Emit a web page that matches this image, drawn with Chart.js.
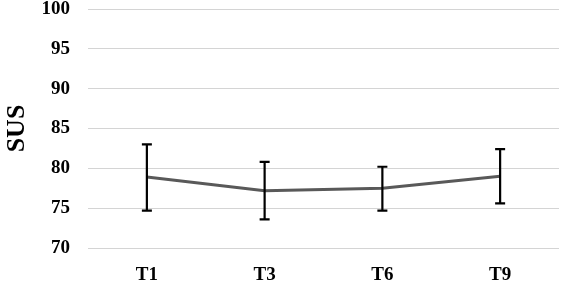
<!DOCTYPE html>
<html>
<head>
<meta charset="utf-8">
<script src="https://cdn.jsdelivr.net/npm/chart.js@4"></script>
<style>
  html, body { margin: 0; padding: 0; background: #fff; }
  #wrap { width: 561px; height: 283px; }
</style>
</head>
<body>
<div id="wrap"><canvas id="sus-chart" width="561" height="283"></canvas></div>
<script>
const sessions = ['T1', 'T3', 'T6', 'T9'];
const susMean = [78.9, 77.2, 77.5, 79.0];
const susUpper = [83.0, 80.8, 80.2, 82.4];
const susLower = [74.7, 73.6, 74.7, 75.6];
const yTicks = [70, 75, 80, 85, 90, 95, 100];

const serif = '"Liberation Serif", "Times New Roman", serif';

// draws the whiskers from the upper/lower arrays through the chart scales
const errorBarPlugin = {
    id: 'errorBars',
    afterDatasetsDraw(chart) {
        const ctx = chart.ctx;
        const x = chart.scales.x;
        const y = chart.scales.y;
        ctx.save();
        ctx.strokeStyle = '#000';
        ctx.lineWidth = 2.2;
        sessions.forEach((s, i) => {
            const px = x.getPixelForValue(i);
            const top = y.getPixelForValue(susUpper[i]);
            const bot = y.getPixelForValue(susLower[i]);
            ctx.beginPath();
            ctx.moveTo(px, top);
            ctx.lineTo(px, bot);
            ctx.moveTo(px - 5, top);
            ctx.lineTo(px + 5, top);
            ctx.moveTo(px - 5, bot);
            ctx.lineTo(px + 5, bot);
            ctx.stroke();
        });
        ctx.restore();
    }
};

const ctx = document.getElementById('sus-chart').getContext('2d');
const susChart = new Chart(ctx, {
    type: 'line',
    data: {
        labels: sessions,
        datasets: [{
            label: 'SUS',
            data: susMean,
            borderColor: '#595959',
            borderWidth: 3,
            pointRadius: 0,
            tension: 0,
            fill: false
        }]
    },
    options: {
        responsive: false,
        animation: false,
        layout: { padding: { top: 9, right: 2, left: 2, bottom: 0 } },
        plugins: {
            legend: { display: false },
            tooltip: { enabled: false }
        },
        scales: {
            x: {
                offset: true,
                grid: { display: false },
                border: { display: false },
                afterFit(axis) {
                    axis.height = 35;
                    axis.paddingLeft = 0;
                    axis.paddingRight = 0;
                },
                ticks: {
                    color: '#000',
                    padding: 8,
                    font: { family: serif, size: 19, weight: 'bold' }
                }
            },
            y: {
                min: 70,
                max: 100,
                afterBuildTicks(axis) {
                    axis.ticks = yTicks.map(v => ({ value: v }));
                },
                afterFit(axis) {
                    axis.width = 86;
                    axis.paddingTop = 0;
                    axis.paddingBottom = 0;
                },
                grid: { color: '#d4d4d4', lineWidth: 1, drawTicks: false },
                border: { display: false },
                title: {
                    display: true,
                    text: 'SUS',
                    color: '#000',
                    padding: 0,
                    font: { family: serif, size: 26, weight: 'bold' }
                },
                ticks: {
                    color: '#000',
                    padding: 18,
                    font: { family: serif, size: 19, weight: 'bold' }
                }
            }
        }
    },
    plugins: [ errorBarPlugin ]
});
</script>
</body>
</html>
